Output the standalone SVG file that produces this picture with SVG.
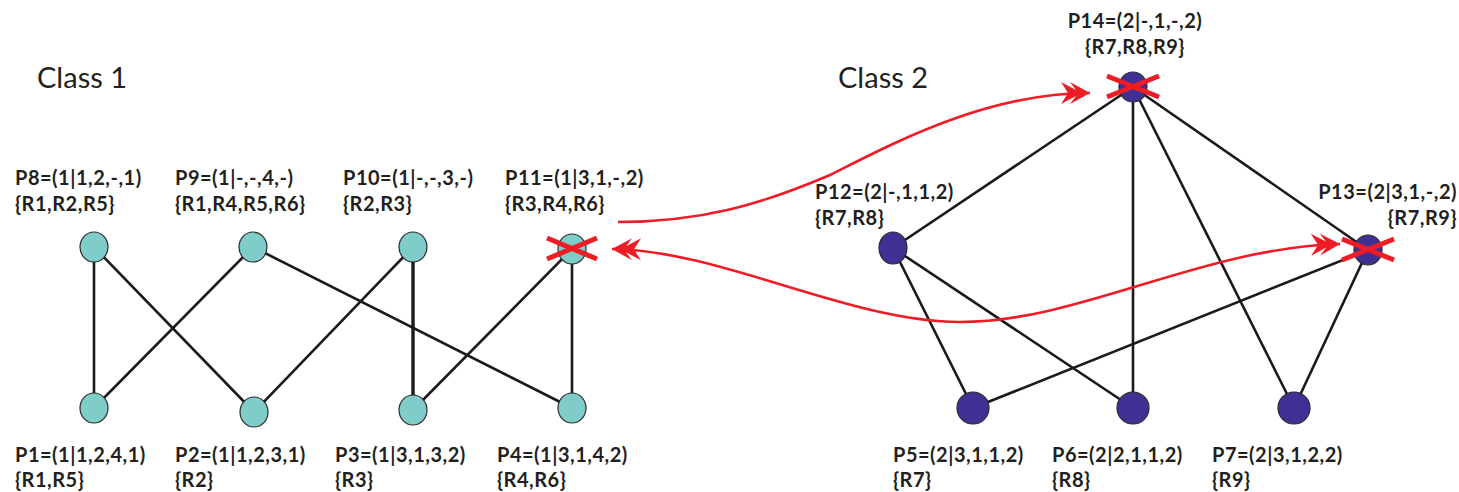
<svg xmlns="http://www.w3.org/2000/svg" width="1459" height="492" viewBox="0 0 1459 492">
<style>
text{font-family:Lato,"Open Sans","Liberation Sans",sans-serif;fill:#231f20}
.lbl{font-size:20px;font-weight:bold;letter-spacing:0.5px}
.title{font-size:29px;font-weight:normal}
.c1{fill:#7ecdc9;stroke:#2b2b2b;stroke-width:1.2}
.c2{fill:#3e3193;stroke:#2b2b2b;stroke-width:1.2}
.edge{stroke:#1a1a1a;stroke-width:2.6;fill:none}
.x{stroke:#ee1c25;stroke-width:5;stroke-linecap:butt}
.red{stroke:#ee1c25;stroke-width:2.6;fill:none}
</style>
<defs>
<marker id="dbl" markerUnits="userSpaceOnUse" viewBox="-30 -13 32 26" markerWidth="32" markerHeight="26" refX="0" refY="0" orient="auto-start-reverse">
<path d="M0,0 L-20,-11 L-14,-3 L-29,-11 L-22,0 L-29,11 L-14,3 L-20,11 Z" fill="#ee1c25"/>
</marker>
</defs>
<text class="title" x="37" y="88">Class 1</text>
<text class="title" x="838" y="88">Class 2</text>
<g id="connectors">
<line class="edge" x1="94" y1="247" x2="94" y2="408"/>
<line class="edge" x1="94" y1="247" x2="254" y2="412"/>
<line class="edge" x1="253" y1="247" x2="94" y2="408"/>
<line class="edge" x1="253" y1="247" x2="572" y2="408"/>
<line class="edge" x1="413" y1="247" x2="254" y2="412"/>
<line class="edge" x1="413" y1="247" x2="413" y2="410" style="stroke-width:3.4"/>
<line class="edge" x1="572" y1="249" x2="413" y2="410"/>
<line class="edge" x1="572" y1="249" x2="572" y2="408"/>
<line class="edge" x1="1133" y1="87" x2="893" y2="248"/>
<line class="edge" x1="1133" y1="87" x2="1133" y2="408"/>
<line class="edge" x1="1133" y1="87" x2="1294" y2="408"/>
<line class="edge" x1="1133" y1="87" x2="1368" y2="250"/>
<line class="edge" x1="893" y1="248" x2="973" y2="408"/>
<line class="edge" x1="893" y1="248" x2="1133" y2="408"/>
<line class="edge" x1="1368" y1="250" x2="973" y2="408"/>
<line class="edge" x1="1368" y1="250" x2="1294" y2="408"/>
<path class="red" d="M618,222 C700,222 760,205 830,175 C890,145 985,93 1090,93" marker-end="url(#dbl)"/>
<path class="red" d="M612,249 C720,250 850,322 960,322 C1080,322 1200,248 1340,244" marker-start="url(#dbl)" marker-end="url(#dbl)"/>
</g>
<g id="P8"><ellipse class="c1" cx="94" cy="247" rx="14" ry="15"/><text class="lbl" x="15" y="185">P8=(1|1,2,-,1)</text><text class="lbl" x="15" y="211">{R1,R2,R5}</text></g>
<g id="P9"><ellipse class="c1" cx="253" cy="247" rx="14" ry="15"/><text class="lbl" x="175" y="185">P9=(1|-,-,4,-)</text><text class="lbl" x="175" y="211">{R1,R4,R5,R6}</text></g>
<g id="P10"><ellipse class="c1" cx="413" cy="247" rx="14" ry="15"/><text class="lbl" x="343" y="185">P10=(1|-,-,3,-)</text><text class="lbl" x="343" y="211">{R2,R3}</text></g>
<g id="P11"><ellipse class="c1" cx="572" cy="249" rx="14" ry="15"/><line class="x" x1="547" y1="238" x2="597" y2="259"/><line class="x" x1="547" y1="259" x2="597" y2="238"/><text class="lbl" x="505" y="185">P11=(1|3,1,-,2)</text><text class="lbl" x="505" y="211">{R3,R4,R6}</text></g>
<g id="P1"><ellipse class="c1" cx="94" cy="408" rx="14" ry="15"/><text class="lbl" x="15" y="462">P1=(1|1,2,4,1)</text><text class="lbl" x="15" y="487">{R1,R5}</text></g>
<g id="P2"><ellipse class="c1" cx="254" cy="412" rx="14" ry="15"/><text class="lbl" x="175" y="462">P2=(1|1,2,3,1)</text><text class="lbl" x="175" y="487">{R2}</text></g>
<g id="P3"><ellipse class="c1" cx="413" cy="410" rx="14" ry="15"/><text class="lbl" x="335" y="462">P3=(1|3,1,3,2)</text><text class="lbl" x="335" y="487">{R3}</text></g>
<g id="P4"><ellipse class="c1" cx="572" cy="408" rx="14" ry="15"/><text class="lbl" x="497" y="462">P4=(1|3,1,4,2)</text><text class="lbl" x="497" y="487">{R4,R6}</text></g>
<g id="P14"><ellipse class="c2" cx="1133" cy="87" rx="14" ry="15"/><line class="x" x1="1107" y1="76" x2="1159" y2="97"/><line class="x" x1="1107" y1="97" x2="1159" y2="76"/><text class="lbl" x="1135" y="28" text-anchor="middle">P14=(2|-,1,-,2)</text><text class="lbl" x="1135" y="54" text-anchor="middle">{R7,R8,R9}</text></g>
<g id="P12"><ellipse class="c2" cx="893" cy="248" rx="14" ry="16"/><text class="lbl" x="815" y="199">P12=(2|-,1,1,2)</text><text class="lbl" x="815" y="225">{R7,R8}</text></g>
<g id="P13"><ellipse class="c2" cx="1368" cy="250" rx="14" ry="15"/><line class="x" x1="1342" y1="239" x2="1394" y2="260"/><line class="x" x1="1342" y1="260" x2="1394" y2="239"/><text class="lbl" x="1457" y="199" text-anchor="end">P13=(2|3,1,-,2)</text><text class="lbl" x="1457" y="225" text-anchor="end">{R7,R9}</text></g>
<g id="P5"><circle class="c2" cx="973" cy="408" r="16"/><text class="lbl" x="893" y="462">P5=(2|3,1,1,2)</text><text class="lbl" x="893" y="487">{R7}</text></g>
<g id="P6"><circle class="c2" cx="1133" cy="408" r="16"/><text class="lbl" x="1052" y="462">P6=(2|2,1,1,2)</text><text class="lbl" x="1052" y="487">{R8}</text></g>
<g id="P7"><circle class="c2" cx="1294" cy="408" r="16"/><text class="lbl" x="1212" y="462">P7=(2|3,1,2,2)</text><text class="lbl" x="1212" y="487">{R9}</text></g>
</svg>
